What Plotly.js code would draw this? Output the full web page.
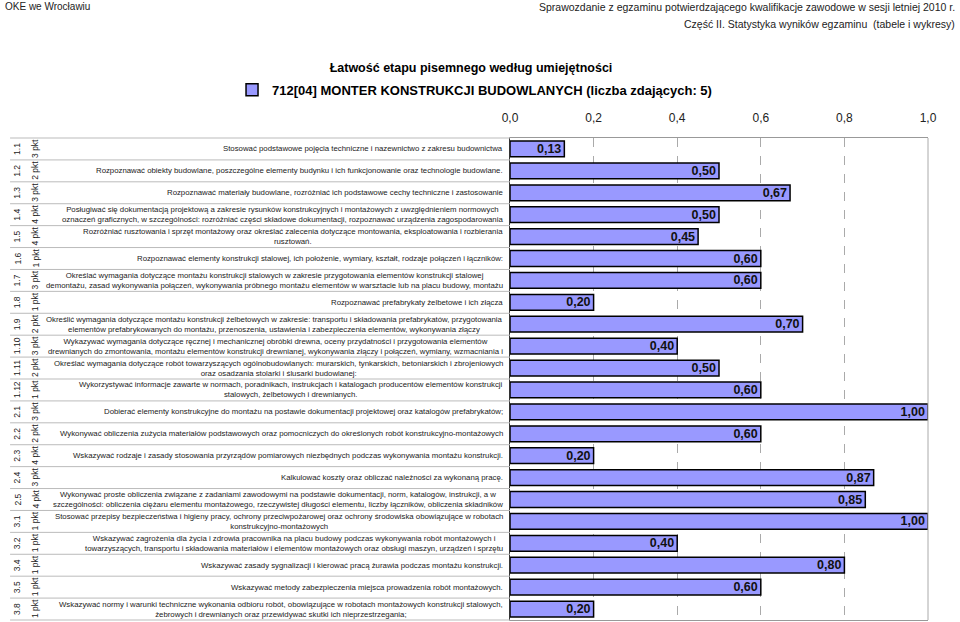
<!DOCTYPE html>
<html>
<head>
<meta charset="utf-8">
<script src="https://cdn.plot.ly/plotly-3.0.1.min.js"></script>
<style>
  body { margin: 0; background: #fff; }
  #chart { width: 960px; height: 622px; }
</style>
</head>
<body>
<div id="chart"></div>
<script>
var codes = ['1.1', '1.2', '1.3', '1.4', '1.5', '1.6', '1.7', '1.8', '1.9', '1.10', '1.11',
  '1.12', '2.1', '2.2', '2.3', '2.4', '2.5', '3.1', '3.2', '3.4', '3.5', '3.8'];
var points = ['3 pkt', '2 pkt', '3 pkt', '4 pkt', '4 pkt', '1 pkt', '3 pkt', '1 pkt', '2 pkt', '3 pkt', '2 pkt',
  '1 pkt', '3 pkt', '2 pkt', '4 pkt', '3 pkt', '4 pkt', '1 pkt', '1 pkt', '1 pkt', '1 pkt', '1 pkt'];
var skills = [
  'Stosować podstawowe pojęcia techniczne i nazewnictwo z zakresu budownictwa',
  'Rozpoznawać obiekty budowlane, poszczególne elementy budynku i ich funkcjonowanie oraz technologie budowlane.',
  'Rozpoznawać materiały budowlane, rozróżniać ich podstawowe cechy techniczne i zastosowanie',
  'Posługiwać się dokumentacją projektową a zakresie rysunków konstrukcyjnych i montażowych z uwzględnieniem normowych<br>oznaczeń graficznych, w szczególności: rozróżniać części składowe dokumentacji, rozpoznawać urządzenia zagospodarowania',
  'Rozróżniać rusztowania i sprzęt montażowy oraz określać zalecenia dotyczące montowania, eksploatowania i rozbierania<br>rusztowań.',
  'Rozpoznawać elementy konstrukcji stalowej, ich położenie, wymiary, kształt, rodzaje połączeń i łączników:',
  'Określać wymagania dotyczące montażu konstrukcji stalowych w zakresie przygotowania elementów konstrukcji stalowej<br>demontażu, zasad wykonywania połączeń, wykonywania próbnego montażu elementów w warsztacie lub na placu budowy, montażu',
  'Rozpoznawać prefabrykaty żelbetowe i ich złącza',
  'Określić wymagania dotyczące montażu konstrukcji żelbetowych w zakresie: transportu i składowania prefabrykatów, przygotowania<br>elementów prefabrykowanych do montażu, przenoszenia, ustawienia i zabezpieczenia elementów, wykonywania złączy',
  'Wykazywać wymagania dotyczące ręcznej i mechanicznej obróbki drewna, oceny przydatności i przygotowania elementów<br>drewnianych do zmontowania, montażu elementów konstrukcji drewnianej, wykonywania złączy i połączeń, wymiany, wzmacniania i',
  'Określać wymagania dotyczące robót towarzyszących ogólnobudowlanych: murarskich, tynkarskich, betoniarskich i zbrojeniowych<br>oraz osadzania stolarki i ślusarki budowlanej:',
  'Wykorzystywać informacje zawarte w normach, poradnikach, instrukcjach i katalogach producentów elementów konstrukcji<br>stalowych, żelbetowych i drewnianych.',
  'Dobierać elementy konstrukcyjne do montażu na postawie dokumentacji projektowej oraz katalogów prefabrykatów;',
  'Wykonywać obliczenia zużycia materiałów podstawowych oraz pomocniczych do określonych robót konstrukcyjno-montażowych',
  'Wskazywać rodzaje i zasady stosowania przyrządów pomiarowych niezbędnych podczas wykonywania montażu konstrukcji.',
  'Kalkulować koszty oraz obliczać należności za wykonaną pracę.',
  'Wykonywać proste obliczenia związane z zadaniami zawodowymi na podstawie dokumentacji, norm, katalogów, instrukcji, a w<br>szczególności: obliczenia ciężaru elementu montażowego, rzeczywistej długości elementu, liczby łączników, obliczenia składników',
  'Stosować przepisy bezpieczeństwa i higieny pracy, ochrony przeciwpożarowej oraz ochrony środowiska obowiązujące w robotach<br>konstrukcyjno-montażowych',
  'Wskazywać zagrożenia dla życia i zdrowia pracownika na placu budowy podczas wykonywania robót montażowych i<br>towarzyszących, transportu i składowania materiałów i elementów montażowych oraz obsługi maszyn, urządzeń i sprzętu',
  'Wskazywać zasady sygnalizacji i kierować pracą żurawia podczas montażu konstrukcji.',
  'Wskazywać metody zabezpieczenia miejsca prowadzenia robót montażowych.',
  'Wskazywać normy i warunki techniczne wykonania odbioru robót, obowiązujące w robotach montażowych konstrukcji stalowych,<br>żebrowych i drewnianych oraz przewidywać skutki ich nieprzestrzegania;'
];
var ease = [0.13, 0.50, 0.67, 0.50, 0.45, 0.60, 0.60, 0.20, 0.70, 0.40, 0.50,
  0.60, 1.00, 0.60, 0.20, 0.87, 0.85, 1.00, 0.40, 0.80, 0.60, 0.20];

var seriesName = '712[04] MONTER KONSTRUKCJI BUDOWLANYCH (liczba zdających: 5)';

var sans = 'Liberation Sans, Arial, Helvetica, sans-serif';

var trace = {
  type: 'bar',
  orientation: 'h',
  name: seriesName,
  x: ease,
  y: codes,
  width: 0.72,
  marker: { color: '#9999FF', line: { color: '#000', width: 1.5 } },
  text: ease.map(function (v) { return v.toFixed(2).replace('.', ','); }),
  textposition: 'inside',
  insidetextanchor: 'end',
  constraintext: 'none',
  textangle: 0,
  textfont: { family: sans, size: 12.5, weight: 'bold', color: '#111' },
  hoverinfo: 'x+y'
};

var annotations = [];
var shapes = [];
var n = codes.length;

codes.forEach(function (c, i) {
  // category axis: place row texts by index
  annotations.push({
    xref: 'paper', yref: 'y', x: 0, y: i, xshift: -5, xanchor: 'right', yanchor: 'middle',
    text: skills[i], showarrow: false, align: 'center',
    font: { family: sans, size: 7.8, color: '#222' }
  });
  annotations.push({
    xref: 'paper', yref: 'y', x: 0, y: i, xshift: -493, xanchor: 'center', yanchor: 'middle',
    text: c, showarrow: false, textangle: -90,
    font: { family: sans, size: 8.5, color: '#222' }
  });
  annotations.push({
    xref: 'paper', yref: 'y', x: 0, y: i, xshift: -475, xanchor: 'center', yanchor: 'middle',
    text: points[i], showarrow: false, textangle: -90,
    font: { family: sans, size: 8.5, color: '#222' }
  });
});

// row separators of the label table
for (var k = 0; k <= n; k++) {
  shapes.push({
    type: 'line', xref: 'paper', yref: 'paper', x0: -1.196, x1: 0, y0: k / n, y1: k / n,
    line: { color: '#bbb', width: 1 }
  });
}
// right border of the plot
shapes.push({
  type: 'line', xref: 'paper', yref: 'paper', x0: 1, x1: 1, y0: 0, y1: 1,
  line: { color: '#aaa', width: 1 }
});

// page header
annotations.push({
  xref: 'paper', yref: 'paper', x: -1.213, y: 1.272, xanchor: 'left', yanchor: 'middle',
  text: 'OKE we Wrocławiu', showarrow: false,
  font: { family: sans, size: 10, color: '#222' }
});
annotations.push({
  xref: 'paper', yref: 'paper', x: 1.0694, y: 1.272, xanchor: 'right', yanchor: 'middle',
  text: 'Sprawozdanie z egzaminu potwierdzającego kwalifikacje zawodowe w sesji letniej 2010 r.', showarrow: false,
  font: { family: sans, size: 10.5, color: '#222' }
});
annotations.push({
  xref: 'paper', yref: 'paper', x: 1.0694, y: 1.2365, xanchor: 'right', yanchor: 'middle',
  text: 'Część II. Statystyka wyników egzaminu  (tabele i wykresy)', showarrow: false,
  font: { family: sans, size: 10.5, color: '#222' }
});

var layout = {
  width: 960,
  height: 622,
  margin: { l: 510, r: 32, t: 138, b: 2 },
  paper_bgcolor: '#fff',
  plot_bgcolor: '#fff',
  separators: ', ',
  title: {
    text: 'Łatwość etapu pisemnego według umiejętności',
    x: 471 / 960, xref: 'container', xanchor: 'center',
    y: 1 - 68 / 622, yref: 'container', yanchor: 'middle',
    font: { family: sans, size: 12.5, weight: 'bold', color: '#000' }
  },
  showlegend: true,
  legend: {
    orientation: 'h', x: -0.665, xanchor: 'left', y: 1.10, yanchor: 'middle',
    font: { family: sans, size: 13, weight: 'bold', color: '#000' },
    bgcolor: 'rgba(0,0,0,0)'
  },
  xaxis: {
    side: 'top',
    range: [0, 1],
    dtick: 0.2,
    tick0: 0,
    tickformat: '.1f',
    ticks: 'outside', ticklen: 10, tickcolor: 'rgba(0,0,0,0)',
    tickfont: { family: sans, size: 12, color: '#222' },
    showgrid: true, gridcolor: '#aaa', griddash: 'dash', gridwidth: 1,
    showline: true, linecolor: '#999', linewidth: 1, mirror: 'all',
    zeroline: false,
    fixedrange: true
  },
  yaxis: {
    type: 'category',
    range: [n - 0.5, -0.5],
    showticklabels: false,
    ticks: '',
    showgrid: false,
    showline: true, linecolor: '#333', linewidth: 1,
    zeroline: false,
    fixedrange: true
  },
  annotations: annotations,
  shapes: shapes,
  bargap: 0.28
};

Plotly.newPlot('chart', [trace], layout, { displayModeBar: false, staticPlot: true });
</script>
</body>
</html>
